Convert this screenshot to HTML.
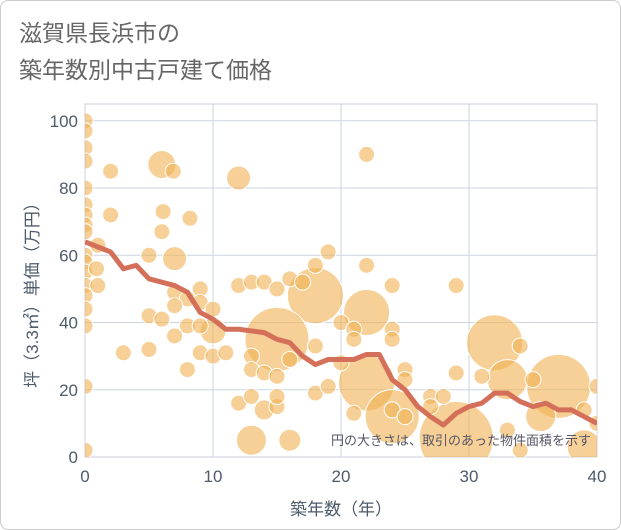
<!DOCTYPE html>
<html><head><meta charset="utf-8"><style>
body{margin:0;background:#fff;}
#wrap{width:619px;height:528px;border:1px solid #ccc;border-radius:8px;position:relative;overflow:hidden;background:#fff;font-family:"Liberation Sans","Noto Sans CJK JP",sans-serif;}
</style></head><body>
<div id="wrap">
<svg id="chart" width="621" height="530"></svg>
</div>
<script>
const lineX=[0,1,2,3,4,5,6,7,8,9,10,11,12,13,14,15,16,17,18,19,20,21,22,23,24,25,26,27,28,29,30,31,32,33,34,35,36,37,38,39,40];
const lineY=[64,62.5,61,56,57,53,52,51,49,43,41,38,38,37.5,37,35,34,30,27.5,29,29,29,30.5,30.5,23,20,15,12,9.5,13,15,16,19,19,16.5,15,16,14,14,12,10];
const bubX=[6,12,22,18,22,15,22,24,32,37,29,33,13,16,35.6,39,10,
0,0,0,0,0,0,0,0,0,0,0,0,0,0,0,0,0,0,
2,6.9,2,6.1,8.2,6,1,0.9,1,5,7,19,18,22,12,13,14,15,16,17,24,29,9,7,8,7,9,10,5,6,8,9,7,20,21,21,24,24,3,5,9,10,11,8,13,13,14,15,16,18,18,19,20,25,25,29,31,34,35,40,12,13,14,15,15,21,24,25,27,28,27,33,34,39,40,37];
const bubY=[87,83,90,48,43,35,22,12,34,21,5.5,23,5,5,12,3,37.5,
100,97,92,88,80,75,72,69,67,60,58,55,51,48,44,39,21,2,
85,85,72,73,71,67,63,56,51,60,59,61,57,57,51,52,52,50,53,52,51,51,50,49,47,45,46,44,42,41,39,39,36,40,38,35,38,35,31,32,31,30,31,26,30,26,25,24,29,33,19,21,28,26,23,25,24,33,23,21,16,18,14,15,18,13,14,12,18,18,15,8,2,14,10,17];
const bubR=[14,12,8,28,23,32,28,27,28,32,37,20,15,11,15,17,13,
8,8,8,8,8,8,8,8,8,8,8,8,8,8,8,8,8,8,
8,8,8,8,8,8,8,8,8,8,12,8,8,8,8,8,8,8,8,8,8,8,8,8,8,8,8,8,8,8,8,8,8,8,8,8,8,8,8,8,8,8,8,8,8,8,8,8,8,8,8,8,8,8,8,8,8,8,8,8,8,8,10,8,8,8,8,8,8,8,8,8,8,8,8];
const xTicks=[0,10,20,30,40];
const yTicks=[0,20,40,60,80,100];
const NS="http://www.w3.org/2000/svg";
const svg=document.getElementById('chart');
const L=84,R=596,T=103,B=456;
const sx=v=>L+(v/40)*(R-L);
const sy=v=>B-(v/105)*(B-T);
function mk(tag,attrs,parent){const e=document.createElementNS(NS,tag);for(const k in attrs)e.setAttribute(k,attrs[k]);(parent||svg).appendChild(e);return e;}
const defs=mk('defs',{});const cp=mk('clipPath',{id:'clip'},defs);mk('rect',{x:L,y:T,width:R-L,height:B-T},cp);
let t=mk('text',{x:18,y:40,'font-size':23,fill:'#666'});t.textContent='滋賀県長浜市の';


t=mk('text',{x:18,y:77,'font-size':23,fill:'#666'});t.textContent='築年数別中古戸建て価格';


xTicks.forEach(v=>{const g=mk('line',{x1:sx(v),x2:sx(v),y1:T,y2:B,stroke:'#cbd6e2','stroke-width':1});


const l=mk('text',{x:sx(v),y:481,'font-size':17,fill:'#4d5b6b','text-anchor':'middle'});l.textContent=v;

});
yTicks.forEach(v=>{const g=mk('line',{x1:L,x2:R,y1:sy(v),y2:sy(v),stroke:'#cbd6e2','stroke-width':1});


const l=mk('text',{x:77,y:sy(v)+6,'font-size':17,fill:'#4d5b6b','text-anchor':'end'});l.textContent=v;

});
const pb=mk('rect',{x:L,y:T,width:R-L,height:B-T,fill:'none',stroke:'#ccd','stroke-width':1});


const g=mk('g',{'clip-path':'url(#clip)'});
bubX.forEach((x,i)=>{const c=mk('circle',{cx:sx(x),cy:sy(bubY[i]),r:bubR[i],fill:'rgba(240,176,80,0.6)',stroke:'#fff','stroke-width':1},g);

});
const pl=mk('polyline',{points:lineX.map((x,i)=>sx(x)+','+sy(lineY[i])).join(' '),fill:'none',stroke:'#d4705a','stroke-width':5,'stroke-linejoin':'round'},g);


t=mk('text',{x:590,y:444,'font-size':13,fill:'#556','text-anchor':'end'});t.textContent='円の大きさは、取引のあった物件面積を示す';


t=mk('text',{x:340,y:514,'font-size':17,fill:'#4d5b6b','text-anchor':'middle'});t.textContent='築年数（年）';


t=mk('text',{x:0,y:0,'font-size':17,fill:'#4d5b6b','text-anchor':'middle',transform:'translate(37,290) rotate(-90)'});t.textContent='坪（3.3㎡）単価（万円）';


</script>
</body></html>
